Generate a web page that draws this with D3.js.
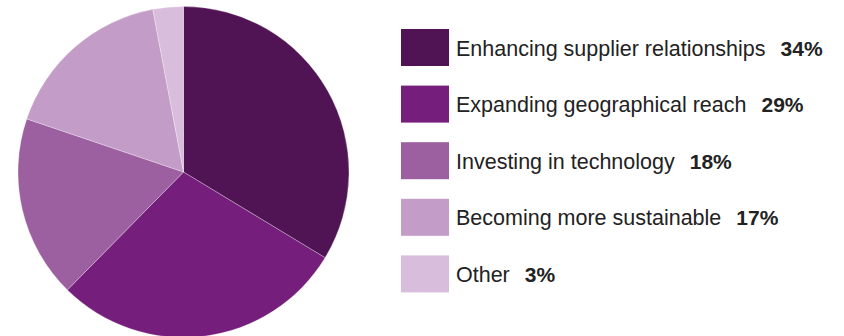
<!DOCTYPE html>
<html>
<head>
<meta charset="utf-8">
<script src="https://cdn.jsdelivr.net/npm/d3@7"></script>
<style>
  html, body { margin: 0; padding: 0; background: #ffffff; }
  svg { display: block; }
  text { font-family: "Liberation Sans", Arial, sans-serif; }
</style>
</head>
<body>
<svg id="chart" width="844" height="336"></svg>
<script>
// Share of respondents by priority
const categories = [
  "Enhancing supplier relationships",
  "Expanding geographical reach",
  "Investing in technology",
  "Becoming more sustainable",
  "Other"
];
const values = [34, 29, 18, 17, 3];
const colors = ["#501455", "#761e7c", "#9c5fa0", "#c39cc8", "#d8bddc"];

const data = categories.map((c, i) => ({ name: c, value: values[i], color: colors[i] }));

const svg = d3.select("#chart");

// Pie
const cx = 183.5, cy = 172, radius = 165.5;
const pie = d3.pie().value(d => d.value).sort(null);
const arc = d3.arc().innerRadius(0).outerRadius(radius);

svg.append("g")
  .attr("transform", `translate(${cx},${cy})`)
  .selectAll("path")
  .data(pie(data))
  .join("path")
  .attr("d", arc)
  .attr("fill", d => d.data.color)
  .attr("stroke", "#ffffff")
  .attr("stroke-opacity", 0.35)
  .attr("stroke-width", 0.8);

// Legend
const row = d3.scaleBand()
  .domain(categories)
  .range([29, 29 + 56.6 * categories.length])
  .paddingInner(0)
  .paddingOuter(0);

const legend = svg.append("g");
const items = legend.selectAll("g")
  .data(data)
  .join("g")
  .attr("transform", d => `translate(401,${row(d.name)})`);

items.append("rect")
  .attr("width", 48)
  .attr("height", 37)
  .attr("fill", d => d.color);

const labels = items.append("text")
  .attr("x", 55)
  .attr("y", 26.5)
  .attr("font-size", 21.5)
  .attr("fill", "#222222")
  .text(d => d.name);

items.each(function(d) {
  const g = d3.select(this);
  const w = g.select("text").node().getComputedTextLength();
  g.append("text")
    .attr("x", 55 + w + 15)
    .attr("y", 26.5)
    .attr("font-size", 21)
    .attr("font-weight", "bold")
    .attr("fill", "#222222")
    .text(d.value + "%");
});
</script>
</body>
</html>
